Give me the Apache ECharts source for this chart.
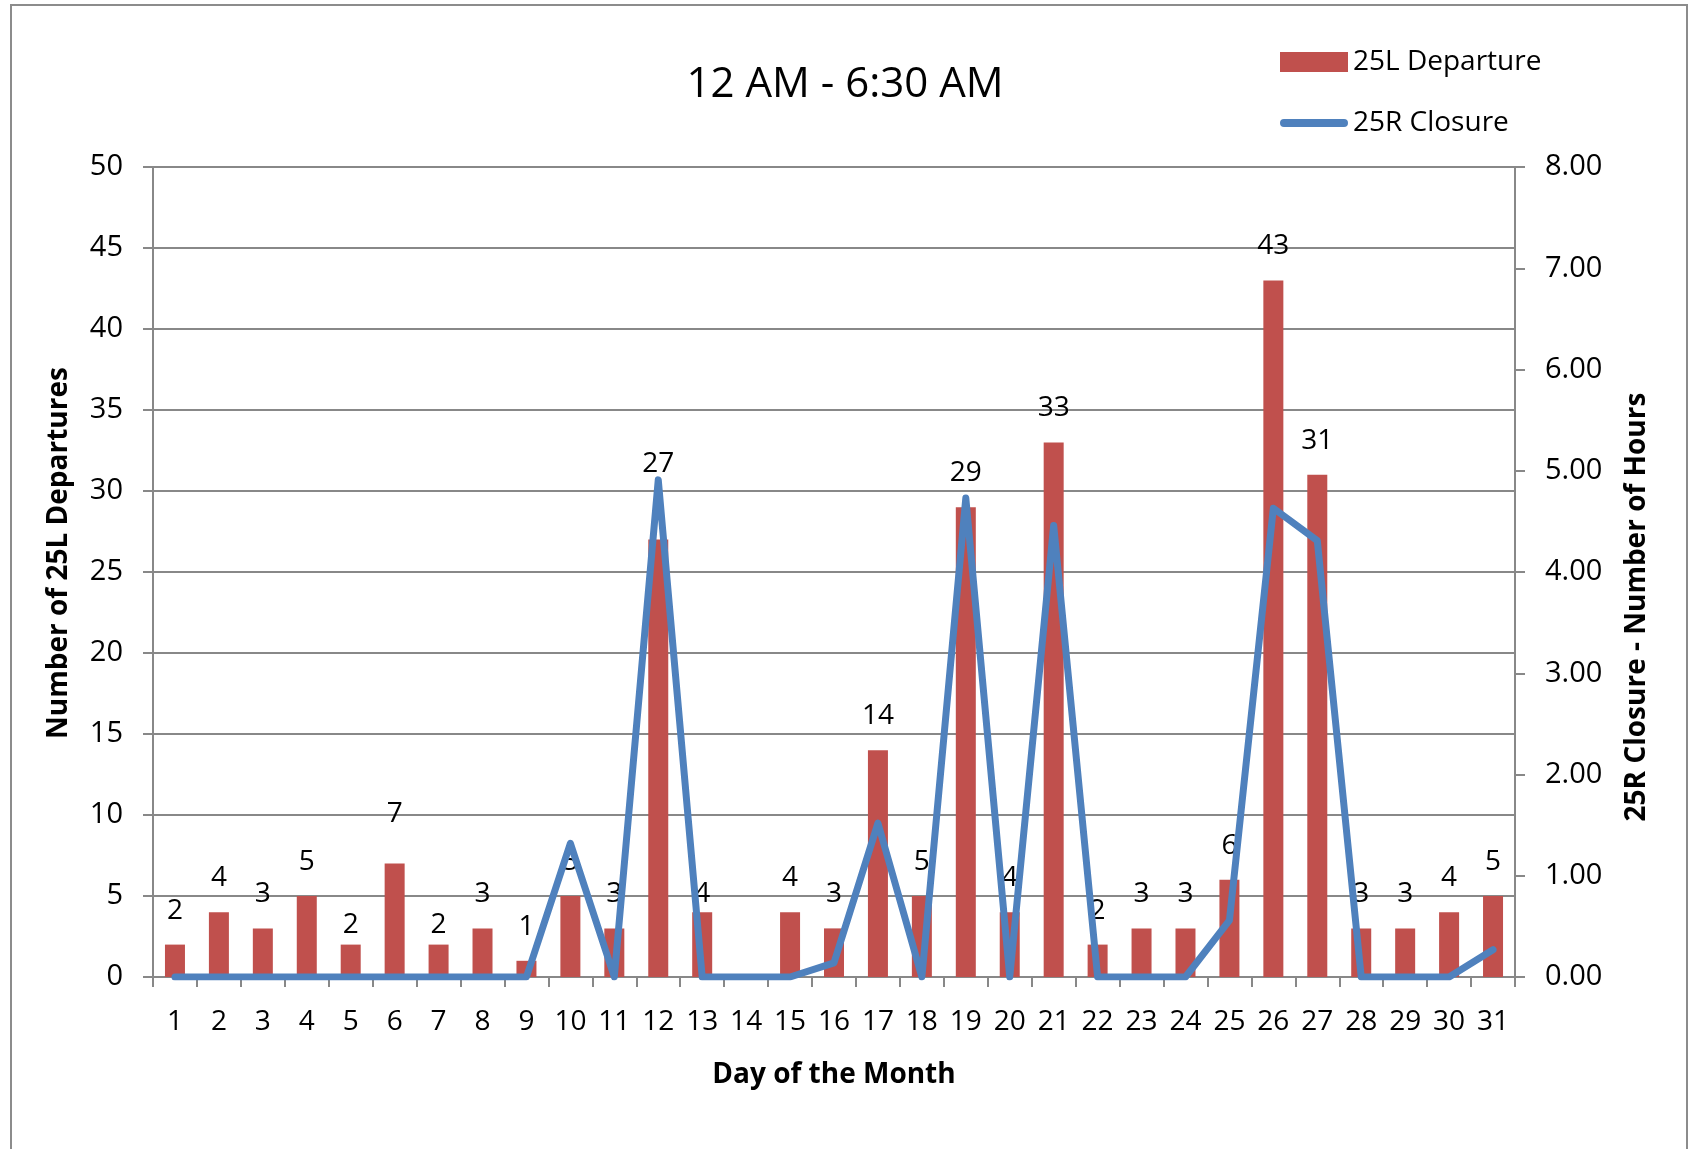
<!DOCTYPE html>
<html>
<head>
<meta charset="utf-8">
<script src="https://cdn.jsdelivr.net/npm/echarts@6/dist/echarts.min.js"></script>
<style>
html,body{margin:0;padding:0;background:#fff;}
#chart{width:1690px;height:1149px;}
</style>
</head>
<body>
<div id="chart"></div>
<script>
const days = ['1','2','3','4','5','6','7','8','9','10','11','12','13','14','15','16','17','18','19','20','21','22','23','24','25','26','27','28','29','30','31'];
const departures25L = [2,4,3,5,2,7,2,3,1,5,3,27,4,null,4,3,14,5,29,4,33,2,3,3,6,43,31,3,3,4,5];
const closureHours25R = [0,0,0,0,0,0,0,0,0,1.32,0,4.91,0,0,0,0.14,1.52,0,4.73,0,4.46,0,0,0,0.56,4.63,4.31,0,0,0,0.27];
const leftTicks = {min:0, max:50, interval:5};
const rightTicks = {min:0, max:8, interval:1};

// label vertical nudges (px) for a few hand-placed data labels, keyed by day index
const labelNudge = {4:14, 5:-16, 6:14, 11:-42, 12:16};

const FONT = '"Open Sans", "Noto Sans", sans-serif';

// thick rounded line icon for the line series legend entry (68x20 box)
const LINE_ICON = 'path://M0,0L0.01,0L0,0.01ZM0,20L0.01,20L0,19.99ZM68,0L67.99,0L68,0.01Z' +
  'M4,6L64,6A4,4,0,0,1,64,14L4,14A4,4,0,0,1,4,6Z';

const barData = departures25L.map((v, i) => {
  if (v === null) return {value: '-', label: {show: false}};
  const item = {value: v};
  if (labelNudge[i] !== undefined) item.label = {offset: [0, labelNudge[i]]};
  return item;
});

const chart = echarts.init(document.getElementById('chart'), null, {renderer: 'canvas'});
chart.setOption({
  animation: false,
  backgroundColor: '#ffffff',
  textStyle: {fontFamily: FONT},
  title: {
    text: '12 AM - 6:30 AM',
    left: 'center',
    top: 64,
    padding: 0,
    textStyle: {fontFamily: FONT, fontSize: 42, fontWeight: 'normal', color: '#000'}
  },
  legend: {
    orient: 'vertical',
    left: 1275,
    top: 43,
    itemWidth: 68,
    itemHeight: 20,
    itemGap: 33,
    textStyle: {fontFamily: FONT, fontSize: 28, color: '#000'},
    data: [
      {name: '25L Departure', icon: 'rect'},
      {name: '25R Closure', icon: LINE_ICON, itemStyle: {color: '#4F81BD', borderWidth: 0}}
    ]
  },
  grid: {left: 153, right: 175, top: 167, bottom: 172, containLabel: false},
  xAxis: {
    type: 'category',
    data: days,
    boundaryGap: true,
    name: 'Day of the Month',
    nameLocation: 'middle',
    nameGap: 84,
    nameTextStyle: {fontFamily: FONT, fontSize: 28, fontWeight: 'bold', color: '#000'},
    axisLine: {show: true, lineStyle: {color: '#888', width: 2}},
    axisTick: {show: true, alignWithLabel: false, length: 10, lineStyle: {color: '#888', width: 2}},
    axisLabel: {fontFamily: FONT, fontSize: 28, color: '#000', margin: 31, interval: 0}
  },
  yAxis: [
    {
      type: 'value',
      min: leftTicks.min, max: leftTicks.max, interval: leftTicks.interval,
      position: 'left',
      name: 'Number of 25L Departures',
      nameLocation: 'middle',
      nameRotate: 90,
      nameGap: 80,
      nameTextStyle: {fontFamily: FONT, fontSize: 28, fontWeight: 'bold', color: '#000', padding: [0, 0, 0, 38]},
      axisLine: {show: true, lineStyle: {color: '#888', width: 2}},
      axisTick: {show: true, length: 10, lineStyle: {color: '#888', width: 2}},
      axisLabel: {fontFamily: FONT, fontSize: 29, color: '#000', margin: 30},
      splitLine: {show: true, lineStyle: {color: '#888', width: 2}}
    },
    {
      type: 'value',
      min: rightTicks.min, max: rightTicks.max, interval: rightTicks.interval,
      position: 'right',
      name: '25R Closure - Number of Hours',
      nameLocation: 'middle',
      nameRotate: 90,
      nameGap: 108,
      nameTextStyle: {fontFamily: FONT, fontSize: 28, fontWeight: 'bold', color: '#000', padding: [0, 70, 0, 0]},
      axisLine: {show: true, lineStyle: {color: '#888', width: 2}},
      axisTick: {show: true, length: 10, lineStyle: {color: '#888', width: 2}},
      axisLabel: {fontFamily: FONT, fontSize: 29, color: '#000', margin: 30, formatter: v => v.toFixed(2)},
      splitLine: {show: false}
    }
  ],
  series: [
    {
      name: '25L Departure',
      type: 'bar',
      yAxisIndex: 0,
      data: barData,
      barWidth: 20,
      itemStyle: {color: '#C0504D'},
      label: {show: true, position: 'top', distance: 20, fontFamily: FONT, fontSize: 28, color: '#000'},
      z: 2
    },
    {
      name: '25R Closure',
      type: 'line',
      yAxisIndex: 1,
      data: closureHours25R,
      symbol: 'none',
      showSymbol: false,
      lineStyle: {color: '#4F81BD', width: 7, cap: 'round', join: 'round'},
      itemStyle: {color: '#4F81BD'},
      z: 3
    }
  ],
  graphic: [
    {
      type: 'rect',
      shape: {x: 11, y: 5, width: 1676, height: 1200},
      style: {fill: 'none', stroke: '#8c8c8c', lineWidth: 2},
      silent: true, z: -1
    }
  ]
});
</script>
</body>
</html>
